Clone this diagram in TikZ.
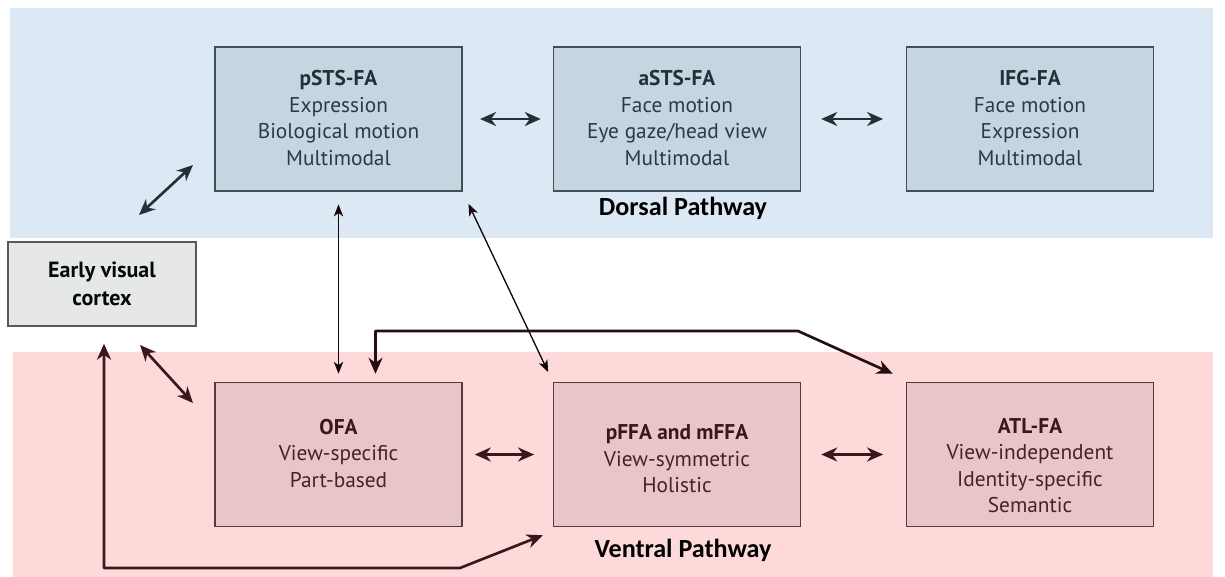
\documentclass[tikz,border=0pt]{standalone}
\usepackage{fontspec}
\setmainfont{PT Sans}
\newfontfamily\pathfont{Carlito}
\usetikzlibrary{arrows.meta,calc}

\definecolor{dorsalbg}{HTML}{DCE8F4}
\definecolor{ventralbg}{HTML}{FDD9DA}
\definecolor{dorsalfill}{HTML}{C5D6E1}
\definecolor{ventralfill}{HTML}{E8C5C7}
\definecolor{earlyfill}{HTML}{E6E7E9}
\definecolor{dorsalink}{HTML}{22303A}
\definecolor{ventralink}{HTML}{3A171B}
\definecolor{dorsaltext}{HTML}{2B3B46}
\definecolor{ventraltext}{HTML}{462227}

\tikzset{
  region/.style={draw=#1, line width=1.1pt, minimum width=185.25pt, minimum height=108pt, inner sep=0pt},
  dorsalbox/.style={region=dorsalink!85, fill=dorsalfill},
  ventralbox/.style={region=ventralink!85, fill=ventralfill},
  boxtext/.style={align=center, inner sep=0pt, font=\fontsize{16}{19.9}\selectfont},
  dorsaltextstyle/.style={boxtext, text=dorsaltext},
  ventraltextstyle/.style={boxtext, text=ventraltext},
  pathlabel/.style={font=\pathfont\bfseries\fontsize{19.6}{22}\selectfont, text=black},
  thicklink/.style={line width=2pt, {Stealth[length=12pt,width=10.5pt,inset=3.8pt]}-{Stealth[length=12pt,width=10.5pt,inset=3.8pt]}},
  thinlink/.style={line width=1pt, {Stealth[length=9pt,width=7pt,inset=2.6pt]}-{Stealth[length=9pt,width=7pt,inset=2.6pt]}},
}

\begin{document}
\begin{tikzpicture}[x=0.75pt,y=-0.75pt]
\useasboundingbox (0,0) rectangle (1225,577);

% pathway bands
\fill[dorsalbg] (10,8) rectangle (1213,238);
\fill[ventralbg] (13,352) rectangle (1213,577);

% dorsal pathway
\node[dorsalbox] (psts) at (338.5,119) {};
\node[dorsalbox] (asts) at (677,119) {};
\node[dorsalbox] (ifg) at (1030,119) {};
\node[dorsaltextstyle] (pststext) at ($(psts)+(0,-1)$)
  {\textbf{\color{dorsalink}pSTS-FA}\\Expression\\Biological motion\\Multimodal};
\node[dorsaltextstyle] (aststext) at ($(asts)+(0,-1)$)
  {\textbf{\color{dorsalink}aSTS-FA}\\Face motion\\Eye gaze/head view\\Multimodal};
\node[dorsaltextstyle] (ifgtext) at ($(ifg)+(0,-1)$)
  {\textbf{\color{dorsalink}IFG-FA}\\Face motion\\Expression\\Multimodal};
\node[pathlabel] (dlabel) at (683,208) {Dorsal Pathway};

% early visual cortex
\node[draw=black!65, line width=1.1pt, fill=earlyfill, minimum width=141pt, minimum height=63pt,
  align=center, inner sep=0pt, text=black!80!dorsalink,
  font=\bfseries\fontsize{16.5}{21}\selectfont] (early) at (102,284) {Early visual\\cortex};

% ventral pathway
\node[ventralbox] (ofa) at (338.5,454.5) {};
\node[ventralbox] (ffa) at (677,454.5) {};
\node[ventralbox] (atl) at (1030,454.5) {};
\node[ventraltextstyle] (ofatext) at ($(ofa)+(0,-1)$)
  {\textbf{\color{ventralink}OFA}\\View-specific\\Part-based};
\node[ventraltextstyle] (ffatext) at ($(ffa)+(0,4.5)$)
  {\textbf{\color{ventralink}pFFA and mFFA}\\View-symmetric\\Holistic};
\node[ventraltextstyle] (atltext) at ($(atl)+(0,11)$)
  {\textbf{\color{ventralink}ATL-FA}\\View-independent\\Identity-specific\\Semantic};
\node[pathlabel] (vlabel) at (683,550) {Ventral Pathway};

% free ends of the diagonal links near the early visual cortex
\coordinate (ed1) at (139,215);
\coordinate (ed2) at (193,165);
\coordinate (ev1) at (140,345);
\coordinate (ev2) at (193,403);

% dorsal links
\draw[thicklink, dorsalink, shorten <=13pt, shorten >=9pt] (psts.east) -- (asts.west);
\draw[thicklink, dorsalink, shorten <=15pt, shorten >=17pt] (asts.east) -- (ifg.west);
\draw[thicklink, dorsalink] (ed1) -- (ed2);

% links between the two pathways
\draw[thinlink, black!70!ventralink, shorten <=9.5pt, shorten >=6pt] (psts.south) -- (ofa.north);
\draw[thinlink, black!70!ventralink, shorten <=10pt, shorten >=8pt] (psts.south east) -- (ffa.north west);

% ventral links
\draw[thicklink, ventralink, shorten <=9pt, shorten >=14pt] (ofa.east) -- (ffa.west);
\draw[thicklink, ventralink, shorten <=15pt, shorten >=17pt] (ffa.east) -- (atl.west);
\draw[thicklink, ventralink] (ev1) -- (ev2);
\draw[thicklink, black!40!ventralink, line join=round]
  ($(ofa.north)+(37,-8)$) |- (798,331) -- ($(atl.north west)+(-13,-8)$);
\draw[thicklink, ventralink, line join=round]
  ($(early.south)+(2,17)$) |- (460,568) -- ($(ffa.south west)+(-10,8)$);
\end{tikzpicture}
\end{document}
